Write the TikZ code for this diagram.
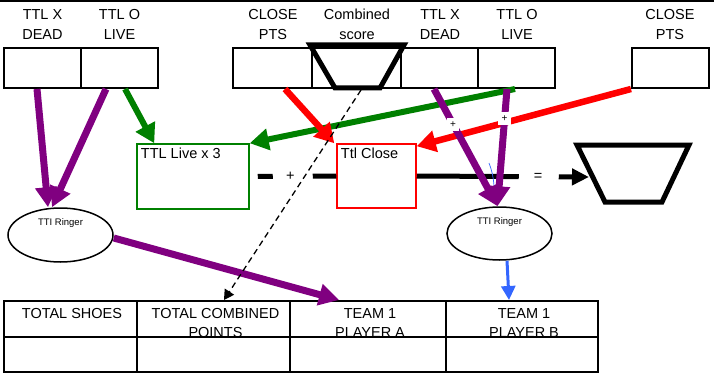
\documentclass[tikz,border=0pt]{standalone}
\usepackage{fontspec}
\setmainfont{Liberation Sans}
\usetikzlibrary{arrows.meta,shapes.geometric}
\definecolor{ttlgreen}{RGB}{0,128,0}
\definecolor{ttlred}{RGB}{255,0,0}
\definecolor{ttlpurple}{RGB}{128,0,128}
\definecolor{ttlblue}{RGB}{51,102,255}
\tikzset{
  cell/.style={draw, line width=2pt, inner sep=0pt, minimum height=40pt},
  heading/.style={align=center, anchor=north, inner sep=0pt},
  trap/.style={line width=5pt},
  scorebox/.style={line width=1.5pt, inner sep=0pt},
  boxtext/.style={anchor=north west, inner sep=4.5pt},
  ring/.style={ellipse, draw, line width=1.5pt, inner sep=0pt, minimum width=105pt, minimum height=54pt},
  ringtext/.style={inner sep=0pt, font=\fontsize{9.5}{10}\selectfont},
  tcell/.style={draw, line width=2pt, inner sep=0pt, minimum height=36pt},
  ttext/.style={align=center, anchor=north, inner sep=0pt, font=\fontsize{14.5}{19}\selectfont},
  joinline/.style={line width=5pt},
  plus/.style={fill=white, inner sep=3.5pt, font=\fontsize{10}{12}\selectfont}
}
\tikzset{
  purplearrow/.style={draw=ttlpurple, line width=7pt, -{Triangle[length=20pt,width=21pt]}},
  greenarrow/.style={draw=ttlgreen, line width=6pt, -{Triangle[length=19pt,width=21pt]}},
  redarrow/.style={draw=ttlred, line width=6.5pt, -{Triangle[length=19pt,width=21pt]}},
  bluearrow/.style={draw=ttlblue, line width=3pt, -{Triangle[length=14pt,width=14pt]}},
  dashedarrow/.style={line width=1.3pt, dash pattern=on 6pt off 4pt, -{Triangle[length=10pt,width=11pt]}}
}

\begin{document}
\begin{tikzpicture}[x=1pt,y=-1pt,font=\fontsize{14.5}{20}\selectfont]
  \useasboundingbox (0,0) rectangle (714,377);
  % top rule
  \draw[line width=2pt] (0,1) -- (714,1);
  % score cells
  \node[cell,minimum width=77pt] (xdeadA) at (42.5,68) {};
  \node[cell,minimum width=77pt] (oliveA) at (119.5,68) {};
  \node[cell,minimum width=79pt] (closeA) at (272.5,68) {};
  \node[cell,minimum width=89pt] (comb) at (356.5,68) {};
  \node[cell,minimum width=77pt] (xdeadB) at (439.5,68) {};
  \node[cell,minimum width=77pt] (oliveB) at (516.5,68) {};
  \node[cell,minimum width=77pt] (closeB) at (670.5,68) {};
  % headings
  \node[heading] (xdeadAlbl) at (42.5,9) {TTL X\\DEAD};
  \node[heading] (oliveAlbl) at (119.5,9) {TTL O\\LIVE};
  \node[heading] (closeAlbl) at (273,9) {CLOSE\\PTS};
  \node[heading] (comblbl) at (357,9) {Combined\\score};
  \node[heading] (xdeadBlbl) at (440,9) {TTL X\\DEAD};
  \node[heading] (oliveBlbl) at (517,9) {TTL O\\LIVE};
  \node[heading] (closeBlbl) at (670,9) {CLOSE\\PTS};
  % trapezoids
  \draw[trap] (310,45) -- (404,45) -- (380,88) -- (335,88) -- cycle;
  \coordinate (trapbot) at (361,90);
  \draw[trap] (577,145) -- (689,145) -- (662,202) -- (605,202) -- cycle;
  \coordinate (bigtrap) at (589,177);
  % totals
  \node[scorebox,draw=ttlgreen,minimum width=112pt,minimum height=65pt] (live) at (193,176.5) {};
  \node[boxtext] (livetxt) at (live.north west) {TTL Live x 3};
  \node[scorebox,draw=ttlred,minimum width=79pt,minimum height=64pt] (close) at (376.5,176) {};
  \node[boxtext] (closetxt) at (close.north west) {Ttl Close};
  % sum line
  \draw[joinline, dash pattern=on 0pt off 8pt on 15pt off 40pt on 30pt] (live.east) -- node[pos=0.47] (plussign) {+} (close.west);
  \draw[joinline, dash pattern=on 102pt off 40pt on 80pt, -{Triangle[length=17pt,width=16pt]}] (close.east) -- node[pos=0.705] (equalsign) {=} (bigtrap);
  \draw[ttlblue, line width=0.7pt] (489,163) to[bend left=8] (494,186);
  % ringers
  \node[ring] (ringA) at (60.5,235) {};
  \node[ringtext] (ringAtxt) at ([yshift=12pt]ringA.center) {TTI Ringer};
  \node[ring,minimum height=53pt] (ringB) at (499.5,233.5) {};
  \node[ringtext] (ringBtxt) at ([yshift=11.5pt]ringB.center) {TTI Ringer};
  % result table
  \node[tcell,minimum width=133pt] (shoes) at (70.5,319) {};
  \node[tcell,minimum width=153pt] (combpts) at (213.5,319) {};
  \node[tcell,minimum width=156pt] (plA) at (368,319) {};
  \node[tcell,minimum width=152pt] (plB) at (522,319) {};
  \node[ttext] (shoestxt) at (72,308) {TOTAL SHOES};
  \node[ttext] (combptstxt) at (215.5,308) {TOTAL COMBINED\\POINTS};
  \node[ttext] (plAtxt) at (370,308) {TEAM 1\\PLAYER A};
  \node[ttext] (plBtxt) at (524,308) {TEAM 1\\PLAYER B};
  \node[tcell,fill=white,minimum width=133pt,minimum height=35pt] (shoesval) at (70.5,354.5) {};
  \node[tcell,fill=white,minimum width=153pt,minimum height=35pt] (combptsval) at (213.5,354.5) {};
  \node[tcell,fill=white,minimum width=156pt,minimum height=35pt] (plAval) at (368,354.5) {};
  \node[tcell,fill=white,minimum width=152pt,minimum height=35pt] (plBval) at (522,354.5) {};
  % green
  \draw[greenarrow] ([xshift=5.5pt]oliveA.south) -- ([xshift=18pt]live.north west);
  \draw[greenarrow] ([xshift=-1.5pt]oliveB.south) -- (live.north east);
  % red
  \draw[redarrow] ([xshift=12.5pt]closeA.south) -- ([xshift=-2pt]close.north west);
  \draw[redarrow] (closeB.south west) -- ([yshift=-3pt]close.north east);
  % purple
  \draw[purplearrow] ([xshift=-5.5pt]xdeadA.south) -- ([xshift=-12.5pt]ringA.north);
  \draw[purplearrow] ([xshift=-13.5pt]oliveA.south) -- ([xshift=-8.5pt]ringA.north);
  \draw[purplearrow] ([xshift=-5.5pt]xdeadB.south) -- node[plus,pos=0.3] (plusA) {+} ([xshift=-2pt]ringB.north);
  \draw[purplearrow] ([xshift=-9.5pt]oliveB.south) -- node[plus,pos=0.25] (plusB) {+} ([xshift=-2pt]ringB.north);
  \draw[purplearrow] ([yshift=-3pt]ringA.east) -- ([xshift=50pt]plA.north west);
  % blue
  \draw[bluearrow] ([xshift=7.5pt]ringB.south) -- ([xshift=-13pt]plB.north);
  % combined
  \draw[dashedarrow] (trapbot) -- ([xshift=10.5pt]combpts.north);
\end{tikzpicture}
\end{document}
